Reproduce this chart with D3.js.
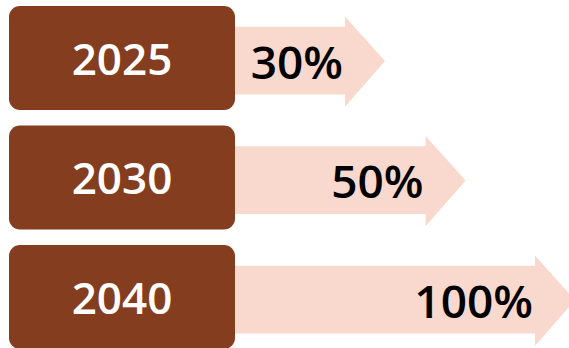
<!DOCTYPE html>
<html>
<head>
<meta charset="utf-8">
<script src="https://cdn.jsdelivr.net/npm/d3@7"></script>
<style>
  body { margin: 0; background: #fff; }
  svg text { font-family: "Open Sans", sans-serif; font-weight: 600; }
</style>
</head>
<body>
<div id="chart"></div>
<script>
// Data
var years = ["2025", "2030", "2040"];
var shares = [30, 50, 100];
var shareLabels = ["30%", "50%", "100%"];

// Dimensions
var svgWidth = 569;
var svgHeight = 348;

var svg = d3.select("#chart")
  .append("svg")
  .attr("width", svgWidth)
  .attr("height", svgHeight);

// One band per year
var yBand = d3.scaleBand()
  .domain(years)
  .range([6, 349])
  .paddingInner(0.13)
  .paddingOuter(0);

// Arrow tip position from the share
var xTip = d3.scaleLog()
  .domain([30, 100])
  .range([385, 575]);

var boxLeft = 9;
var boxWidth = 226;
var headLength = 40;

var rows = years.map(function (y, i) {
  return { year: y, share: shares[i], label: shareLabels[i] };
});

var row = svg.selectAll("g.row")
  .data(rows)
  .enter()
  .append("g")
  .attr("class", "row")
  .attr("transform", d => `translate(0, ${yBand(d.year)})`);

// Arrows (drawn first so the box covers the start)
row.append("path")
  .attr("fill", "#f9d9ce")
  .attr("d", function (d) {
    var bw = yBand.bandwidth();
    var tip = xTip(d.share);
    var neck = tip - headLength;
    var x0 = boxLeft + boxWidth / 2;
    var cy = bw * 0.53;
    var shaftTop = bw * 0.2;
    var shaftBot = bw * 0.85;
    var headTop = bw * 0.1;
    var headBot = bw * 0.97;
    return `M${x0},${shaftTop} L${neck},${shaftTop} L${neck},${headTop} L${tip},${cy} ` +
      `L${neck},${headBot} L${neck},${shaftBot} L${x0},${shaftBot} Z`;
  });

// Year boxes
row.append("rect")
  .attr("x", boxLeft)
  .attr("y", 0)
  .attr("width", boxWidth)
  .attr("height", yBand.bandwidth())
  .attr("rx", 11)
  .attr("ry", 11)
  .attr("fill", "#843d1e");

row.append("text")
  .attr("x", boxLeft + boxWidth / 2)
  .attr("y", yBand.bandwidth() / 2 + 17)
  .attr("text-anchor", "middle")
  .attr("font-size", 44)
  .attr("fill", "#fff")
  .text(d => d.year);

// Share labels
row.append("text")
  .attr("x", d => xTip(d.share) - 42)
  .attr("y", yBand.bandwidth() / 2 + 21)
  .attr("text-anchor", "end")
  .attr("font-size", 46)
  .attr("fill", "#000")
  .text(d => d.label);
</script>
</body>
</html>
